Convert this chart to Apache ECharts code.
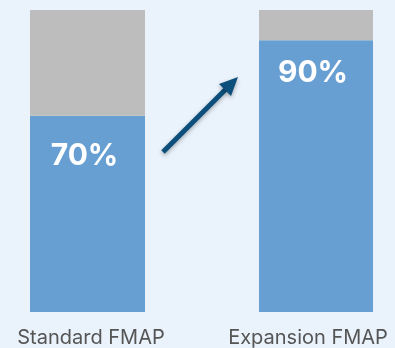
<!DOCTYPE html>
<html>
<head>
<meta charset="utf-8">
<script src="https://cdn.jsdelivr.net/npm/echarts@6/dist/echarts.min.js"></script>
<style>
  html, body { margin: 0; padding: 0; background: #eaf2fb; }
  #chart { width: 395px; height: 348px; }
</style>
</head>
<body>
<div id="chart"></div>
<script>
var categories = ['Standard FMAP', 'Expansion FMAP'];
var federalShare = [65, 90];      // blue part as drawn
var remainder = [35, 10];         // gray part
var shareLabels = ['70%', '90%'];

// one grid per bar so the two bars sit where they do in the picture
var grids = [
  { left: 30, width: 115, top: 10, bottom: 36 },
  { left: 259, width: 114, top: 10, bottom: 36 }
];
var labelDist = [25, 18];
var catPad = [[0, 0, 0, 7], [0, 16, 0, 0]];

var xAxes = [], yAxes = [], series = [];
categories.forEach(function (c, i) {
  xAxes.push({
    type: 'category',
    gridIndex: i,
    data: [c],
    axisLine: { show: false },
    axisTick: { show: false },
    axisLabel: {
      color: '#555555',
      fontSize: 20,
      fontFamily: 'Inter',
      margin: 16,
      padding: catPad[i]
    }
  });
  yAxes.push({ type: 'value', gridIndex: i, min: 0, max: 100, show: false });
  series.push({
    type: 'bar',
    xAxisIndex: i,
    yAxisIndex: i,
    stack: 's' + i,
    barWidth: '100%',
    data: [federalShare[i]],
    itemStyle: { color: '#689fd3' },
    label: {
      show: true,
      position: 'insideTop',
      distance: labelDist[i],
      offset: [-3, 0],
      color: '#ffffff',
      fontSize: 30,
      fontWeight: 'bold',
      fontFamily: 'Inter',
      formatter: shareLabels[i]
    }
  });
  series.push({
    type: 'bar',
    xAxisIndex: i,
    yAxisIndex: i,
    stack: 's' + i,
    barWidth: '100%',
    data: [remainder[i]],
    itemStyle: { color: '#bdbdbd' }
  });
});

var chart = echarts.init(document.getElementById('chart'));
chart.setOption({
  backgroundColor: '#eaf2fb',
  animation: false,
  grid: grids,
  xAxis: xAxes,
  yAxis: yAxes,
  series: series,
  graphic: [
    {
      type: 'group',
      children: [
        {
          type: 'line',
          shape: { x1: 163, y1: 152, x2: 226, y2: 89 },
          style: { stroke: '#0b4f7a', lineWidth: 5, shadowBlur: 4, shadowColor: 'rgba(0,0,0,0.3)', shadowOffsetY: 2 }
        },
        {
          type: 'polygon',
          shape: { points: [[238, 77], [219, 84], [231, 96]] },
          style: { fill: '#0b4f7a', shadowBlur: 4, shadowColor: 'rgba(0,0,0,0.3)', shadowOffsetY: 2 }
        }
      ]
    }
  ]
});
</script>
</body>
</html>
